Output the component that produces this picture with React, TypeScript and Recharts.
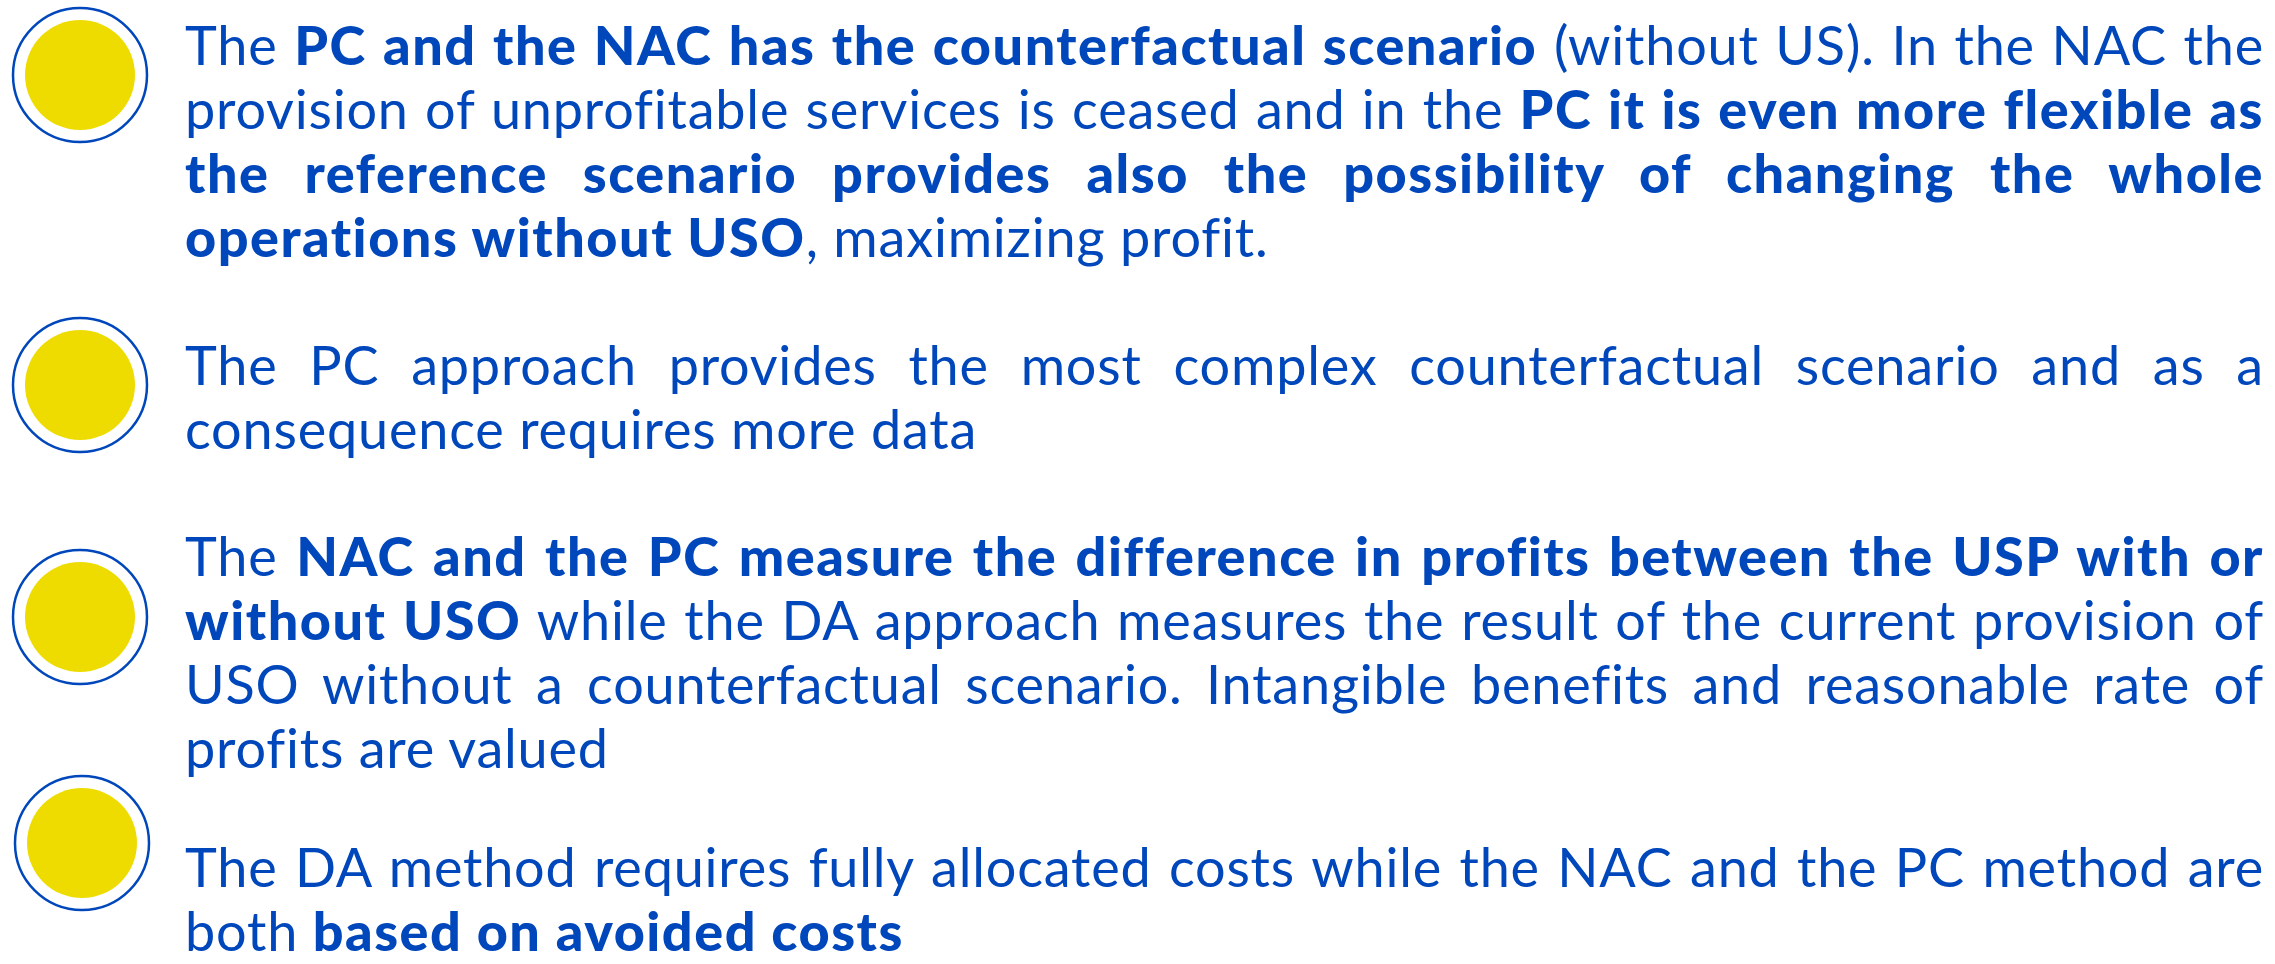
import React from 'react';
import { ScatterChart, Scatter, XAxis, YAxis } from 'recharts';

const WIDTH = 2275;
const HEIGHT = 964;
const BLUE = '#0047BB';
const YELLOW = '#EEDC00';

// one bullet per paragraph, values on a 0..964 vertical scale
const bulletIds = ['p1', 'p2', 'p3', 'p4'];
const bulletX = [80, 80, 80, 82];
const bulletY = [75, 385, 617, 843];

// first baseline of each paragraph (same vertical scale)
// last one nudged up a bit so its second line stays inside the frame
const paraBaselines = [66, 386, 577, 888];

type Seg = [string, boolean];

const para1: Seg[][] = [
  [['The ', false], ['PC and the NAC has the counterfactual scenario', true], [' (without US). In the NAC the', false]],
  [['provision of unprofitable services is ceased and in the ', false], ['PC it is even more flexible as', true]],
  [['the reference scenario provides also the possibility of changing the whole', true]],
  [['operations without USO', true], [', maximizing profit.', false]],
];

const para2: Seg[][] = [
  [['The PC approach provides the most complex counterfactual scenario and as a', false]],
  [['consequence requires more data', false]],
];

const para3: Seg[][] = [
  [['The ', false], ['NAC and the PC measure the difference in profits between the USP with or', true]],
  [['without USO', true], [' while the DA approach measures the result of the current provision of', false]],
  [['USO without a counterfactual scenario. Intangible benefits and reasonable rate of', false]],
  [['profits are valued', false]],
];

const para4: Seg[][] = [
  [['The DA method requires fully allocated costs while the NAC and the PC method are', false]],
  [['both ', false], ['based on avoided costs', true]],
];

const paragraphs = [para1, para2, para3, para4];

const bulletData = bulletIds.map((id, i) => ({ id, x: bulletX[i], y: bulletY[i] }));

const BulletDot = (props: any) => {
  const { cx, cy } = props;
  return (
    <g>
      <circle cx={cx} cy={cy} r={67} fill="#fff" stroke={BLUE} strokeWidth={2.5} />
      <circle cx={cx} cy={cy} r={55} fill={YELLOW} />
    </g>
  );
};

const FONT_SIZE = 54;
const LINE_HEIGHT = 64;
const ASCENT = 53; // baseline offset from line top

export default function App() {
  return (
    <div style={{ position: 'absolute', left: 0, top: 0, width: WIDTH, height: HEIGHT, background: '#fff' }}>
      <ScatterChart width={WIDTH} height={HEIGHT} margin={{ top: 0, right: 0, bottom: 0, left: 0 }}>
        <XAxis type="number" dataKey="x" domain={[0, WIDTH]} hide />
        <YAxis type="number" dataKey="y" domain={[0, HEIGHT]} reversed hide />
        <Scatter data={bulletData} shape={BulletDot} isAnimationActive={false} />
      </ScatterChart>

      {paragraphs.map((lines, pi) => (
        <div
          key={pi}
          style={{
            position: 'absolute',
            left: 185,
            width: 2079,
            top: paraBaselines[pi] - ASCENT,
            fontFamily: 'Lato, sans-serif',
            fontSize: FONT_SIZE,
            lineHeight: `${LINE_HEIGHT}px`,
            color: BLUE,
          }}
        >
          {lines.map((segs, li) => {
            const last = li === lines.length - 1;
            return (
              <div
                key={li}
                style={{
                  textAlign: last ? 'left' : 'justify',
                  textAlignLast: last ? 'left' : 'justify',
                }}
              >
                {segs.map(([t, b], si) => (
                  <span key={si} style={{ fontWeight: b ? 900 : 400, letterSpacing: b ? 1.5 : 0.8 }}>{t}</span>
                ))}
              </div>
            );
          })}
        </div>
      ))}
    </div>
  );
}
